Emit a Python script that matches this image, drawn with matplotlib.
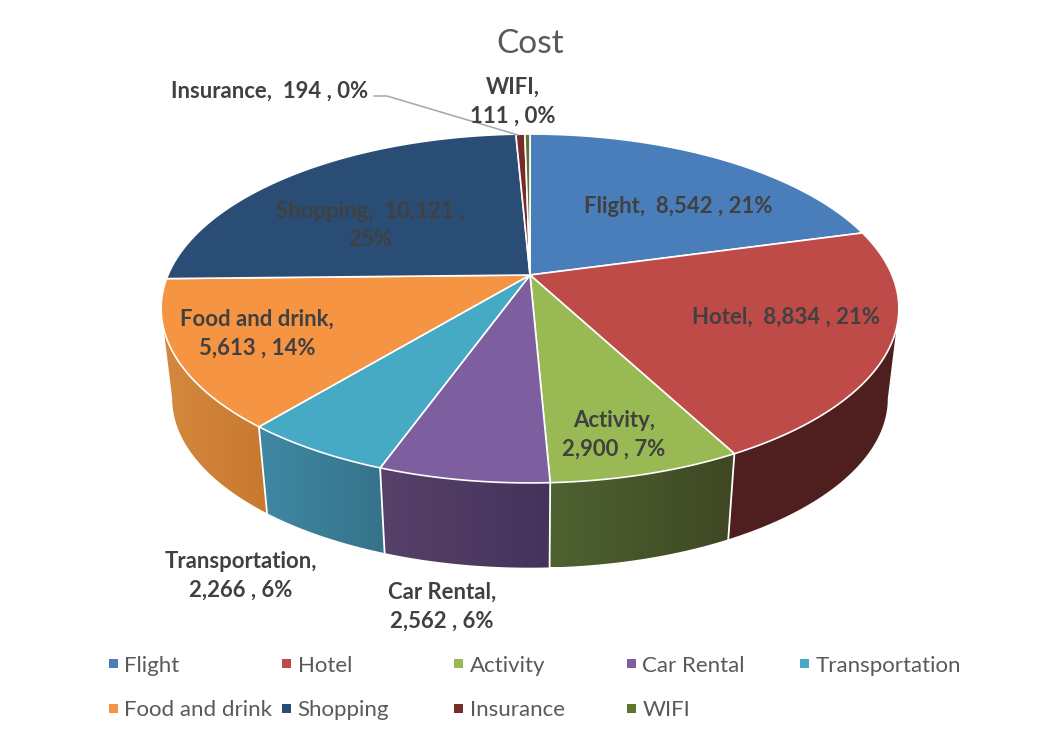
import matplotlib
matplotlib.use('Agg')
import matplotlib.pyplot as plt
from matplotlib.patches import Polygon, Rectangle
from matplotlib.colors import LinearSegmentedColormap
import numpy as np

plt.rcParams['font.family'] = ['Lato', 'DejaVu Sans']

names = ['Flight', 'Hotel', 'Activity', 'Car Rental', 'Transportation',
         'Food and drink', 'Shopping', 'Insurance', 'WIFI']
costs = [8542, 8834, 2900, 2562, 2266, 5613, 10121, 194, 111]

top_colors = ['#4a7ebb', '#be4b48', '#98b954', '#7d5fa0', '#46aac4',
              '#f59443', '#2a4d76', '#772c2a', '#5f7530']
# side colours, left end and right end of each slice's wall
side_left = ['#35557d', '#4f1f1f', '#4e6230', '#574069', '#3f88a3',
             '#d5883f', '#1c324e', '#4f1f1f', '#3e4d20']
side_right = ['#35557d', '#4f1f1f', '#3e4823', '#45335b', '#35738a',
              '#c8792f', '#1c324e', '#4f1f1f', '#3e4d20']

# label anchors in pixels, and the text broken where the picture breaks it
label_pos = [(678, 206.5), (786, 317), (614, 434.5), (442, 606.5), (241, 575.5),
             (257, 333.5), (370, 225.5), (270, 91), (513, 101.5)]
label_wrap = [False, False, True, True, True, True, True, False, True]

# pie geometry, perspective disc
cx = 530
cy = 275
rx = 362
ry = 168
persp = 0.192
wall_scale = 0.97
wall_cy = 366

# the wall only shows between the two points where the rim is widest
front_a = np.arccos(-persp)
front_b = 2 * np.pi - front_a


def rim(theta, bottom=False):
    u = np.sin(theta)
    v = np.cos(theta)
    w = 1 + persp * v
    if bottom:
        return cx + wall_scale * rx * u / w, wall_cy - wall_scale * ry * v / w
    return cx + rx * u / w, cy - ry * v / w


fig = plt.figure(figsize=(10.42, 7.29), dpi=100)
ax = fig.add_axes([0, 0, 1, 1])

total = sum(costs)
edges = np.concatenate([[0], np.cumsum(costs)]) / total * 2 * np.pi

# walls first, the top covers whatever is behind
for i in range(len(costs)):
    a = max(edges[i], front_a)
    b = min(edges[i + 1], front_b)
    if b <= a:
        continue
    th = np.linspace(a, b, 120)
    x1, y1 = rim(th)
    x2, y2 = rim(th, bottom=True)
    pts = np.column_stack([np.r_[x1, x2[::-1]], np.r_[y1, y2[::-1]]])
    poly = Polygon(pts, closed=True, fc='none', ec='none')
    ax.add_patch(poly)
    cmap = LinearSegmentedColormap.from_list('s', [side_left[i], side_right[i]])
    im = ax.imshow(np.linspace(0, 1, 64).reshape(1, -1), cmap=cmap, aspect='auto',
                   extent=[pts[:, 0].min(), pts[:, 0].max(), pts[:, 1].max(), pts[:, 1].min()],
                   zorder=1)
    im.set_clip_path(poly)

# white seams on the front of the wall
for e in edges:
    if front_a < e < front_b:
        x1, y1 = rim(e)
        x2, y2 = rim(e, bottom=True)
        ax.plot([x1, x2], [y1, y2], color='white', lw=1.3, zorder=2)

for i in range(len(costs)):
    th = np.linspace(edges[i], edges[i + 1], 120)
    x1, y1 = rim(th)
    pts = np.column_stack([np.r_[cx, x1], np.r_[cy, y1]])
    ax.add_patch(Polygon(pts, closed=True, fc=top_colors[i], ec='white', lw=1.2,
                         joinstyle='round', zorder=3))

# data labels
for i in range(len(names)):
    pct = round(costs[i] / total * 100)
    if label_wrap[i]:
        txt = f'{names[i]},\n{costs[i]:,} , {pct}%'
        if names[i] == 'Shopping':
            txt = f'{names[i]},  {costs[i]:,} ,\n{pct}%'
    else:
        txt = f'{names[i]},  {costs[i]:,} , {pct}%'
    ax.text(label_pos[i][0], label_pos[i][1], txt, ha='center', va='center',
            fontsize=15.9, fontweight='bold', color='#404040', linespacing=1.47, zorder=5)

# leader line for Insurance
ax.plot([374, 387, 518], [96, 96, 135], color='#a6a6a6', lw=1.1, zorder=4)

ax.text(530, 44, 'Cost', ha='center', va='center', fontsize=24, color='#595959')

# legend, five columns on two rows
leg_x = [113, 286, 458.5, 631, 804]
leg_y = [663.5, 708.5]
for i in range(len(names)):
    lx = leg_x[i % 5]
    ly = leg_y[i // 5]
    ax.add_patch(Rectangle((lx - 4.5, ly - 4.5), 9, 9, fc=top_colors[i], ec='none'))
    ax.text(lx + 11.5, ly + 8, names[i], ha='left', va='baseline', fontsize=16, color='#595959')

ax.set_xlim(0, 1042)
ax.set_ylim(729, 0)
ax.axis('off')

plt.savefig('out.png', dpi=100)
